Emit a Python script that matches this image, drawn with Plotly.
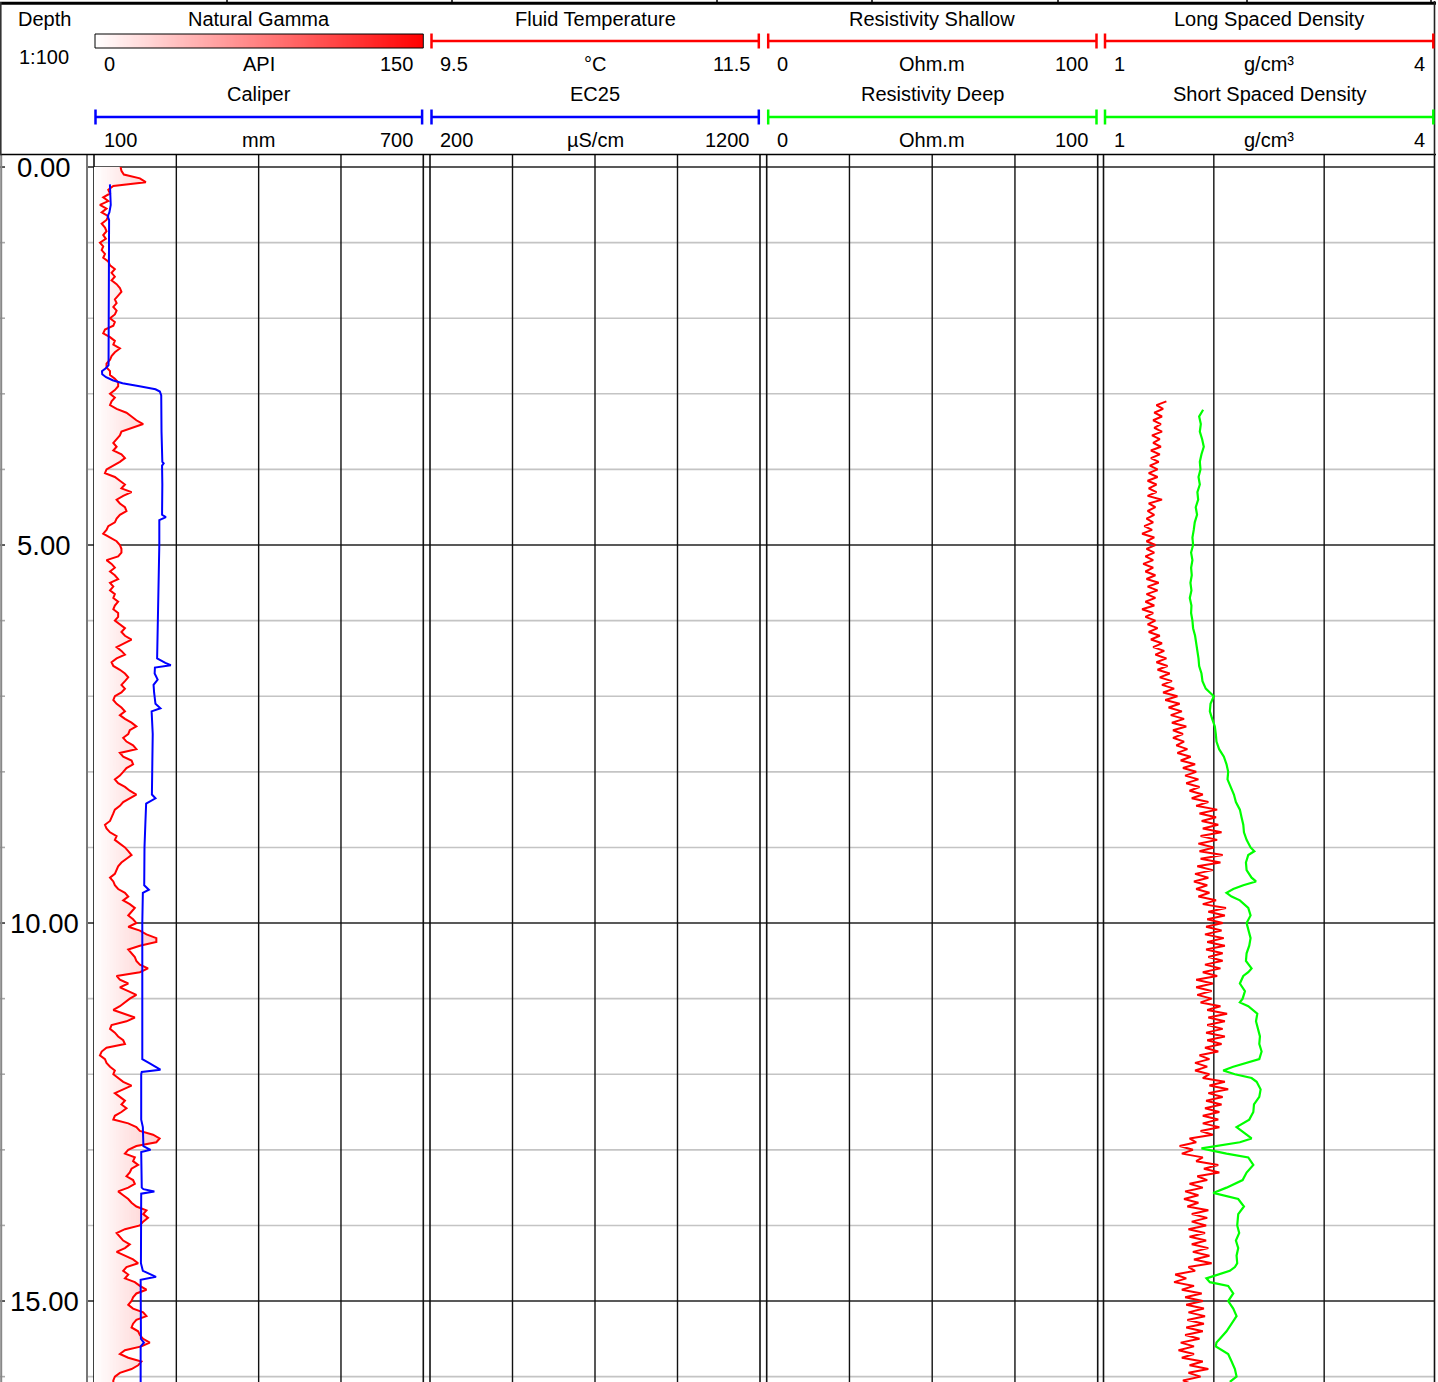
import numpy as np
import plotly.graph_objects as go

W, H = 1438, 1382

# ---------------- log data ----------------
# Natural gamma (API), sampled every 0.05 m from 0.00 m
gamma_top, gamma_step = 0.0, 0.05
gamma_api = [
    12.1, 12.5, 13.6, 20.9, 23.6, 8.8, 6.5, 7.3, 4.2, 6.5, 2.7, 5.7, 3.5, 6.5, 5.7, 3.5, 5.0, 5.7, 4.2, 5.4,
    2.7, 4.2, 3.5, 5.0, 4.2, 6.5, 7.3, 9.5, 8.0, 9.5, 8.0, 10.3, 11.8, 12.5, 11.0, 9.5, 10.3, 8.8, 10.3, 9.5,
    7.3, 9.5, 8.8, 5.0, 4.2, 7.3, 9.5, 8.8, 11.8, 9.5, 8.0, 7.3, 5.7, 5.7, 7.3, 7.3, 9.5, 11.0, 11.0, 9.5,
    7.3, 9.5, 8.0, 7.3, 10.3, 14.8, 17.1, 19.3, 22.4, 17.8, 12.5, 11.8, 10.3, 8.8, 10.3, 8.8, 12.5, 14.1, 11.8, 8.8,
    5.7, 5.0, 9.5, 11.8, 14.1, 12.5, 17.1, 13.3, 10.3, 11.8, 14.1, 14.8, 11.8, 10.3, 9.5, 6.5, 5.7, 4.2, 7.3, 10.3,
    11.8, 12.5, 12.5, 11.0, 5.7, 8.0, 9.5, 7.3, 9.5, 11.0, 7.3, 8.8, 7.3, 9.5, 8.8, 11.0, 9.5, 8.8, 11.0, 11.0,
    9.5, 11.8, 14.1, 12.5, 14.1, 17.1, 13.3, 10.3, 12.5, 14.1, 10.3, 8.0, 8.8, 11.8, 14.1, 15.6, 14.1, 12.5, 14.1, 12.5,
    9.5, 8.8, 10.3, 12.5, 14.1, 11.8, 14.1, 17.1, 19.3, 16.3, 15.6, 13.3, 14.8, 17.8, 19.3, 11.8, 13.3, 17.1, 17.8, 14.8,
    13.3, 11.8, 9.5, 11.0, 14.1, 16.3, 19.3, 16.3, 13.3, 11.8, 9.5, 8.8, 8.0, 7.3, 5.0, 5.7, 7.3, 10.3, 9.5, 11.8,
    14.1, 15.6, 17.1, 14.8, 12.5, 11.0, 10.3, 9.5, 7.3, 8.8, 9.5, 11.0, 14.1, 15.6, 13.3, 16.3, 18.6, 17.1, 15.6, 17.8,
    19.3, 15.6, 20.9, 23.9, 28.4, 28.4, 20.9, 15.6, 17.1, 18.6, 19.3, 20.9, 24.6, 20.9, 10.3, 11.8, 15.6, 11.8, 15.6, 19.3,
    16.3, 14.1, 11.8, 8.8, 13.3, 18.6, 14.8, 8.0, 7.3, 9.5, 11.0, 13.3, 14.1, 5.7, 3.5, 2.7, 5.0, 5.7, 7.3, 9.5,
    8.8, 11.0, 13.3, 17.1, 13.3, 9.5, 11.8, 14.1, 12.5, 14.8, 12.5, 9.5, 8.8, 15.6, 19.3, 20.9, 26.9, 29.9, 28.4, 19.3,
    15.6, 14.1, 18.6, 17.8, 20.1, 17.1, 16.3, 14.8, 17.8, 18.6, 15.6, 11.0, 13.3, 15.6, 17.1, 19.3, 23.9, 22.4, 24.6, 22.4,
    20.9, 14.1, 10.3, 11.8, 13.3, 16.3, 14.1, 10.3, 14.1, 17.8, 20.1, 14.8, 13.3, 15.6, 14.1, 18.6, 20.9, 23.9, 19.3, 17.8,
    17.1, 15.6, 17.8, 22.4, 23.9, 19.3, 17.8, 17.1, 20.1, 20.9, 22.4, 25.4, 21.6, 14.1, 11.8, 15.6, 21.6, 20.1, 17.1, 11.8,
    9.5, 8.8, 8.8,
]

# Caliper (mm)
caliper_depth = [0.23, 0.45, 0.5, 0.6, 0.65, 0.7, 1.0, 1.5, 2.0, 2.5, 2.62, 2.66, 2.70, 2.74, 2.78, 2.82, 2.86,
                 2.90, 2.94, 2.97, 3.02, 3.5, 3.9, 3.92, 3.95, 4.2, 4.6, 4.63, 4.67, 5.0, 5.5, 6.0, 6.45, 6.5,
                 6.56, 6.59, 6.62, 6.7, 6.78, 6.85, 6.95, 7.1, 7.16, 7.2, 7.5, 8.0, 8.3, 8.35, 8.42, 8.7, 9.0,
                 9.5, 9.56, 9.6, 10.0, 11.0, 11.8, 11.85, 11.94, 11.97, 12.0, 12.6, 12.7, 12.95, 13.0, 13.03,
                 13.5, 13.52, 13.55, 13.58, 14.0, 14.5, 14.6, 14.68, 14.72, 15.0, 15.5, 15.55, 15.6, 16.1]
caliper_mm = [129.0, 129.5, 130.5, 128.0, 125.0, 127.5, 127.5, 127.0, 127.5, 127.0, 126.5, 122.0, 114.5, 115.0,
              122.0, 134.0, 152.0, 183.0, 212.0, 220.0, 222.5, 223.0, 224.5, 227.0, 224.0, 224.5, 224.0, 231.0,
              219.0, 219.0, 218.0, 216.5, 215.5, 215.0, 230.0, 240.0, 211.0, 210.5, 216.0, 208.5, 209.5, 212.0,
              221.0, 205.0, 207.0, 206.0, 205.5, 212.0, 195.0, 193.5, 192.0, 191.5, 200.0, 189.0, 188.0, 188.0,
              188.0, 200.0, 221.0, 187.0, 186.0, 186.0, 189.0, 190.0, 203.0, 186.0, 187.0, 190.0, 210.0, 186.0,
              185.5, 185.5, 189.0, 213.0, 185.0, 185.0, 185.5, 191.0, 185.0, 185.0]

# Long spaced density (g/cm3), sampled every 0.05 m from 3.10 m
lsd_top, lsd_step = 3.10, 0.05
long_density = [
    1.57, 1.48, 1.54, 1.46, 1.53, 1.45, 1.52, 1.46, 1.53, 1.44, 1.51, 1.45, 1.52, 1.43, 1.51, 1.43, 1.50, 1.42,
    1.49, 1.41, 1.49, 1.40, 1.48, 1.41, 1.48, 1.40, 1.53, 1.41, 1.47, 1.40, 1.46, 1.39, 1.45, 1.37, 1.44, 1.35, 1.46, 1.39,
    1.47, 1.39, 1.46, 1.38, 1.45, 1.36, 1.45, 1.38, 1.47, 1.39, 1.50, 1.40, 1.49, 1.39, 1.47, 1.38, 1.46, 1.35, 1.45, 1.38,
    1.47, 1.40, 1.49, 1.41, 1.51, 1.43, 1.53, 1.45, 1.55, 1.47, 1.57, 1.48, 1.58, 1.49, 1.60, 1.51, 1.62, 1.53, 1.64, 1.54,
    1.67, 1.56, 1.69, 1.59, 1.71, 1.61, 1.73, 1.62, 1.75, 1.63, 1.72, 1.63, 1.73, 1.66, 1.76, 1.67, 1.79, 1.70, 1.83, 1.72,
    1.84, 1.74, 1.86, 1.75, 1.87, 1.78, 1.90, 1.80, 1.95, 1.84, 2.03, 1.87, 2.02, 1.89, 2.04, 1.90, 2.07, 1.88, 2.03, 1.86,
    2.00, 1.87, 2.08, 1.88, 2.06, 1.85, 1.99, 1.83, 1.95, 1.82, 1.94, 1.84, 1.96, 1.86, 2.02, 1.90, 2.11, 1.95, 2.10, 1.94,
    2.08, 1.93, 2.07, 1.92, 2.09, 1.94, 2.10, 1.93, 2.08, 1.95, 2.08, 1.92, 2.06, 1.90, 2.03, 1.84, 1.99, 1.84, 1.98, 1.85,
    1.98, 1.88, 2.06, 1.94, 2.12, 1.95, 2.10, 1.94, 2.08, 1.93, 2.10, 1.94, 2.07, 1.92, 2.04, 1.87, 1.96, 1.83, 1.94, 1.83,
    1.96, 1.90, 2.10, 1.96, 2.13, 1.95, 2.08, 1.93, 2.07, 1.92, 2.05, 1.90, 2.04, 1.90, 2.05, 1.88, 1.99, 1.78, 1.84, 1.69,
    1.81, 1.71, 1.90, 1.84, 2.04, 1.91, 2.05, 1.85, 1.94, 1.78, 1.90, 1.74, 1.86, 1.73, 1.86, 1.76, 1.95, 1.80, 1.94, 1.80,
    1.93, 1.77, 1.92, 1.78, 1.93, 1.80, 1.95, 1.81, 1.96, 1.82, 1.98, 1.77, 1.83, 1.65, 1.75, 1.64, 1.82, 1.71, 1.89, 1.74,
    1.90, 1.75, 1.91, 1.77, 1.92, 1.76, 1.91, 1.75, 1.90, 1.74, 1.87, 1.70, 1.82, 1.68, 1.82, 1.71, 1.90, 1.78, 1.95, 1.77,
    1.88, 1.72, 1.80,
]

# Short spaced density (g/cm3)
ssd_depth = [3.21, 3.3, 3.4, 3.5, 3.6, 3.7, 3.8, 3.9, 4.0, 4.1, 4.2, 4.3, 4.4, 4.5, 4.6, 4.7, 4.8, 4.9, 5.0, 5.1,
             5.2, 5.3, 5.4, 5.5, 5.6, 5.7, 5.8, 5.9, 6.0, 6.1, 6.2, 6.3, 6.4, 6.5, 6.6, 6.7, 6.8, 6.9, 6.95, 7.0,
             7.1, 7.2, 7.3, 7.4, 7.5, 7.6, 7.7, 7.8, 7.9, 8.0, 8.1, 8.2, 8.3, 8.4, 8.5, 8.6, 8.7, 8.8, 8.9, 9.0,
             9.05, 9.1, 9.2, 9.3, 9.4, 9.45, 9.5, 9.55, 9.6, 9.65, 9.7, 9.8, 9.9, 10.0, 10.1, 10.2, 10.3, 10.4,
             10.5, 10.6, 10.65, 10.7, 10.8, 10.9, 11.0, 11.05, 11.1, 11.2, 11.3, 11.4, 11.5, 11.6, 11.7, 11.8,
             11.85, 11.9, 11.95, 12.0, 12.05, 12.1, 12.2, 12.3, 12.4, 12.5, 12.6, 12.7, 12.8, 12.85, 12.9, 12.95,
             12.98, 13.05, 13.1, 13.2, 13.3, 13.4, 13.5, 13.57, 13.65, 13.75, 13.85, 14.0, 14.1, 14.2, 14.3, 14.4,
             14.5, 14.55, 14.6, 14.7, 14.75, 14.8, 14.9, 15.0, 15.1, 15.2, 15.3, 15.4, 15.5, 15.55, 15.6, 15.7,
             15.8, 15.9, 16.0, 16.07]
short_density = [1.903, 1.867, 1.882, 1.873, 1.894, 1.909, 1.888, 1.873, 1.879, 1.861, 1.873, 1.851, 1.858, 1.836,
                 1.848, 1.827, 1.818, 1.806, 1.812, 1.794, 1.806, 1.794, 1.800, 1.788, 1.797, 1.782, 1.797, 1.794,
                 1.806, 1.812, 1.830, 1.842, 1.848, 1.861, 1.867, 1.888, 1.897, 1.927, 1.964, 2.000, 1.970, 1.964,
                 1.985, 2.009, 2.018, 2.024, 2.048, 2.091, 2.115, 2.130, 2.124, 2.151, 2.182, 2.200, 2.236, 2.251,
                 2.267, 2.273, 2.297, 2.333, 2.367, 2.312, 2.291, 2.297, 2.342, 2.382, 2.267, 2.176, 2.115, 2.161,
                 2.236, 2.312, 2.333, 2.297, 2.312, 2.333, 2.321, 2.297, 2.291, 2.342, 2.312, 2.267, 2.236, 2.282,
                 2.261, 2.236, 2.312, 2.394, 2.382, 2.403, 2.418, 2.412, 2.433, 2.412, 2.297, 2.176, 2.085, 2.191,
                 2.342, 2.388, 2.424, 2.412, 2.364, 2.358, 2.321, 2.206, 2.297, 2.342, 2.236, 2.024, 1.888, 2.115,
                 2.312, 2.358, 2.297, 2.261, 2.115, 1.994, 2.221, 2.273, 2.221, 2.212, 2.230, 2.200, 2.221, 2.206,
                 2.212, 2.191, 2.145, 1.933, 1.964, 2.130, 2.176, 2.130, 2.176, 2.206, 2.161, 2.115, 2.055, 2.024,
                 2.018, 2.130, 2.161, 2.191, 2.206, 2.145]

# Depth axis
depth_range = [16.071, -0.159]
depth_labels = [0, 5, 10, 15]
minor_depths = list(range(0, 17))

# Header curve definitions: (title, unit, min, max, colour) per row, per track
tracks = [
    {"left": 94.0, "right": 423.3,
     "rows": [("Natural Gamma", "API", "0", "150", "gradient"), ("Caliper", "mm", "100", "700", "#0000ff")]},
    {"left": 430.0, "right": 760.0,
     "rows": [("Fluid Temperature", "°C", "9.5", "11.5", "#ff0000"), ("EC25", "µS/cm", "200", "1200", "#0000ff")]},
    {"left": 766.7, "right": 1097.7,
     "rows": [("Resistivity Shallow", "Ohm.m", "0", "100", "#ff0000"), ("Resistivity Deep", "Ohm.m", "0", "100", "#00ff00")]},
    {"left": 1103.5, "right": 1434.5,
     "rows": [("Long Spaced Density", "g/cm³", "1", "4", "#ff0000"), ("Short Spaced Density", "g/cm³", "1", "4", "#00ff00")]},
]

FONT = "Arial, Liberation Sans, sans-serif"


def px(x):
    return x / W


def py(y):
    return 1 - y / H


plot_top = 155.0
fig = go.Figure()

# ---- gamma: horizontal white-to-red gradient fill from 0 API up to the curve ----
g = np.array(gamma_api)
gd = gamma_top + gamma_step * np.arange(len(g))
band = 1.0
for b in np.arange(np.ceil(g.max()), 0, -band):
    mid = b - band / 2
    c = int(round(255 * (1 - mid / 150)))
    fig.add_trace(go.Scatter(x=np.minimum(g, b), y=gd, xaxis="x", yaxis="y", mode="lines",
                             line=dict(width=0), fill="tozerox", fillcolor=f"rgb(255,{c},{c})",
                             hoverinfo="skip", showlegend=False))

fig.add_trace(go.Scatter(x=g, y=gd, xaxis="x", yaxis="y", mode="lines", name="Natural Gamma",
                         line=dict(color="#ff0000", width=2)))
fig.add_trace(go.Scatter(x=caliper_mm, y=caliper_depth, xaxis="x2", yaxis="y", mode="lines", name="Caliper",
                         line=dict(color="#0000ff", width=2)))
# Tracks without recorded values
fig.add_trace(go.Scatter(x=[], y=[], xaxis="x3", yaxis="y", mode="lines", name="Fluid Temperature"))
fig.add_trace(go.Scatter(x=[], y=[], xaxis="x4", yaxis="y", mode="lines", name="Resistivity Shallow"))

ld = lsd_top + lsd_step * np.arange(len(long_density))
fig.add_trace(go.Scatter(x=long_density, y=ld, xaxis="x5", yaxis="y", mode="lines", name="Long Spaced Density",
                         line=dict(color="#ff0000", width=2)))
fig.add_trace(go.Scatter(x=short_density, y=ssd_depth, xaxis="x5", yaxis="y", mode="lines",
                         name="Short Spaced Density", line=dict(color="#00ff00", width=2.2)))

# header gradient bar for the gamma scale
scale_vals = list(range(0, 151))
fig.add_trace(go.Heatmap(z=[scale_vals, scale_vals], x=scale_vals, y=[0, 1], xaxis="x6", yaxis="y2",
                         colorscale=[[0, "#ffffff"], [1, "#ff0000"]], zmin=0, zmax=150, showscale=False,
                         zsmooth="best", hoverinfo="skip"))

shapes = []
annotations = []


def hline(x0, x1, y, color, width, yref="paper"):
    shapes.append(dict(type="line", xref="paper", yref=yref, x0=x0, x1=x1, y0=y, y1=y,
                       line=dict(color=color, width=width), layer="below"))


def vline(x, y0, y1, color, width, xref="paper"):
    shapes.append(dict(type="line", xref=xref, yref="paper", x0=x, x1=x, y0=y0, y1=y1,
                       line=dict(color=color, width=width), layer="below"))


def label(text, x, y, size=20, xanchor="center", yref="paper"):
    annotations.append(dict(text=text, x=x, y=y, xref="paper", yref=yref, showarrow=False,
                            xanchor=xanchor, yanchor="middle", align="center",
                            font=dict(family=FONT, size=size, color="#000")))


# depth grid
for d in minor_depths:
    major = d % 5 == 0
    col = "#222222" if major else "#c4c4c4"
    hline(px(87), px(1434.5), d, col, 1.6, yref="y")
    hline(px(0), px(5), d, "#333333" if major else "#aaaaaa", 1.6, yref="y")

ybot, ytop = 0, py(plot_top)
# track frames and divisions
vline(px(1.2), ybot, ytop, "#888888", 2)
vline(px(87), ybot, ytop, "#777777", 2)
for t in tracks:
    vline(px(t["left"]), ybot, ytop, "#111111", 1.6)
    vline(px(t["right"]), ybot, ytop, "#111111", 1.6)
for v in (37.5, 75, 112.5):
    vline(v, ybot, ytop, "#111111", 1.4, xref="x")
for v in (10.0, 10.5, 11.0):
    vline(v, ybot, ytop, "#111111", 1.4, xref="x3")
for v in (25, 50, 75):
    vline(v, ybot, ytop, "#111111", 1.4, xref="x4")
for v in (2, 3):
    vline(v, ybot, ytop, "#111111", 1.4, xref="x5")

# header frame
hline(px(0), px(1436), py(3.2), "#000000", 3)
for xt in (227, 452, 717, 872, 1058, 1247, 1431):
    vline(px(xt), py(3), py(0), "#000000", 1.5)
hline(px(0), px(1436), py(154.5), "#000000", 1.6)
vline(px(0.8), py(plot_top), py(2), "#333333", 1.6)
vline(px(1434.5), py(plot_top), py(1), "#222222", 1.6)

# depth column header
label("Depth", px(44), py(19.5))
label("1:100", px(44), py(57))

row_y = [(19.5, 41, 64), (94.5, 117, 140)]
for t in tracks:
    l, r = t["left"], t["right"]
    cx = (l + r) / 2
    for (title, unit, lo, hi, colour), (ty, by, ly) in zip(t["rows"], row_y):
        label(title, px(cx), py(ty))
        label(unit, px(cx), py(ly))
        label(lo, px(l + 8), py(ly), xanchor="left")
        label(hi, px(r - 8), py(ly), xanchor="right")
        if colour == "gradient":
            shapes.append(dict(type="rect", xref="paper", yref="paper", x0=px(l + 1), x1=px(r), y0=py(48),
                               y1=py(34), line=dict(color="#000", width=1), layer="above"))
        else:
            x0, x1 = l + 1.5, r - 1.2
            shapes.append(dict(type="line", xref="paper", yref="paper", x0=px(x0), x1=px(x1), y0=py(by),
                               y1=py(by), line=dict(color=colour, width=2.5)))
            for xe in (x0, x1):
                shapes.append(dict(type="line", xref="paper", yref="paper", x0=px(xe), x1=px(xe),
                                   y0=py(by - 7.5), y1=py(by + 7.5), line=dict(color=colour, width=2.5)))

# depth labels
for d in depth_labels:
    label(f"{d:.2f}", px(44), d, size=27.5, yref="y")

hidden = dict(visible=False, showgrid=False, zeroline=False, fixedrange=True)
fig.update_layout(
    width=W, height=H, margin=dict(l=0, r=0, t=0, b=0),
    paper_bgcolor="#ffffff", plot_bgcolor="rgba(0,0,0,0)", showlegend=False,
    xaxis=dict(domain=[px(94), px(423.3)], range=[0, 150], anchor="y", **hidden),
    xaxis2=dict(domain=[px(94), px(423.3)], range=[100, 700], anchor="y", overlaying="x", **hidden),
    xaxis3=dict(domain=[px(430), px(760)], range=[9.5, 11.5], anchor="y", **hidden),
    xaxis4=dict(domain=[px(766.7), px(1097.7)], range=[0, 100], anchor="y", **hidden),
    xaxis5=dict(domain=[px(1103.5), px(1434.5)], range=[1, 4], anchor="y", **hidden),
    xaxis6=dict(domain=[px(95), px(423.3)], range=[0, 150], anchor="y2", **hidden),
    yaxis=dict(domain=[0, py(plot_top)], range=depth_range, anchor="x", **hidden),
    yaxis2=dict(domain=[py(48), py(34)], range=[0, 1], anchor="x6", **hidden),
    shapes=shapes, annotations=annotations,
)

fig.write_html("out.html")
